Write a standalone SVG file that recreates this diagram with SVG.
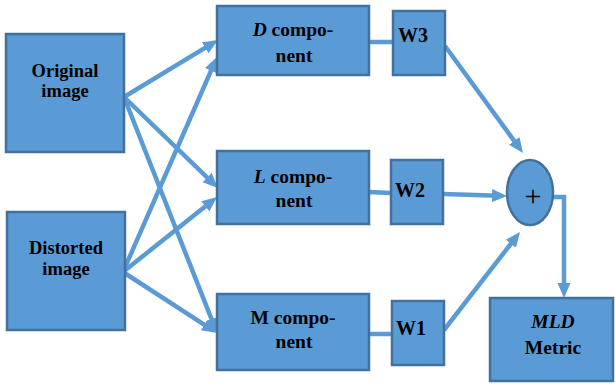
<svg xmlns="http://www.w3.org/2000/svg" width="615" height="384" viewBox="0 0 615 384">
  <style>
    .box { fill: #5B9BD5; stroke: #41719C; stroke-width: 2.5; }
    text { font-family: "Liberation Serif", "DejaVu Serif", serif; fill: #000; }
    .lbl { font-weight: bold; font-size: 18.5px; text-anchor: middle; }
    .cmp { font-weight: bold; font-size: 19.5px; text-anchor: middle; }
    .lblL { font-weight: bold; font-size: 20px; }
    .it { font-style: italic; }
    .wire { fill: none; stroke: #5B9BD5; stroke-width: 4.5; }
    .arrow { marker-end: url(#head); }
  </style>
  <defs>
    <marker id="head" markerUnits="userSpaceOnUse" markerWidth="16" markerHeight="14" refX="7" refY="6.5" orient="auto">
      <path d="M0,0 L15,6.5 L0,13 z" fill="#5B9BD5"/>
    </marker>
  </defs>
  <rect width="615" height="384" fill="#fff"/>

  <!-- connectors -->
  <g id="connectors">
    <line class="wire arrow" x1="124" y1="97" x2="211.2" y2="44.1"/>
    <line class="wire arrow" x1="124" y1="97" x2="212.2" y2="182.4"/>
    <line class="wire arrow" x1="124" y1="97" x2="214.1" y2="325.6"/>
    <line class="wire arrow" x1="123" y1="272" x2="213.8" y2="64.3"/>
    <line class="wire arrow" x1="123" y1="272" x2="210.8" y2="202"/>
    <line class="wire arrow" x1="123" y1="272" x2="210.3" y2="328.6"/>
    <line class="wire" x1="369" y1="42" x2="393" y2="42"/>
    <line class="wire" x1="369" y1="192" x2="391" y2="193"/>
    <line class="wire" x1="369" y1="334" x2="392" y2="334"/>
    <line class="wire arrow" x1="445" y1="46" x2="518.3" y2="146.5"/>
    <line class="wire arrow" x1="443" y1="194" x2="499" y2="195.8"/>
    <line class="wire arrow" x1="444" y1="330" x2="515.1" y2="238.3"/>
    <path class="wire arrow" d="M552,197 H564 V290"/>
  </g>

  <!-- inputs -->
  <g id="original">
    <rect class="box" x="6" y="34" width="118" height="118"/>
    <text class="lbl" x="65" y="77">Original</text>
    <text class="lbl" x="65" y="97">image</text>
  </g>
  <g id="distorted">
    <rect class="box" x="7" y="212" width="118" height="118"/>
    <text class="lbl" x="66" y="254">Distorted</text>
    <text class="lbl" x="66" y="275">image</text>
  </g>

  <!-- components -->
  <g id="d-component">
    <rect class="box" x="217" y="6" width="152" height="69"/>
    <text class="cmp" x="293" y="36"><tspan class="it">D</tspan> compo-</text>
    <text class="cmp" x="294" y="62">nent</text>
  </g>
  <g id="l-component">
    <rect class="box" x="217" y="151" width="152" height="73"/>
    <text class="cmp" x="293" y="183"><tspan class="it">L</tspan> compo-</text>
    <text class="cmp" x="294" y="207">nent</text>
  </g>
  <g id="m-component">
    <rect class="box" x="217" y="294" width="152" height="76"/>
    <text class="cmp" x="293" y="324">M compo-</text>
    <text class="cmp" x="294" y="348">nent</text>
  </g>

  <!-- weights -->
  <g id="w3">
    <rect class="box" x="393" y="11" width="52" height="64"/>
    <text class="lblL" x="398" y="42">W3</text>
  </g>
  <g id="w2">
    <rect class="box" x="391" y="160" width="52" height="64"/>
    <text class="lblL" x="395" y="197">W2</text>
  </g>
  <g id="w1">
    <rect class="box" x="392" y="301" width="52" height="64"/>
    <text class="lblL" x="396" y="335">W1</text>
  </g>

  <!-- summation -->
  <g id="sum">
    <ellipse class="box" cx="530" cy="192.5" rx="23" ry="32.5"/>
    <text x="533" y="206" font-size="30" text-anchor="middle">+</text>
  </g>

  <!-- output -->
  <g id="mld-metric">
    <rect class="box" x="490" y="298" width="123" height="83"/>
    <text class="cmp" x="553" y="328"><tspan class="it">MLD</tspan></text>
    <text class="cmp" x="553" y="354">Metric</text>
  </g>
</svg>
